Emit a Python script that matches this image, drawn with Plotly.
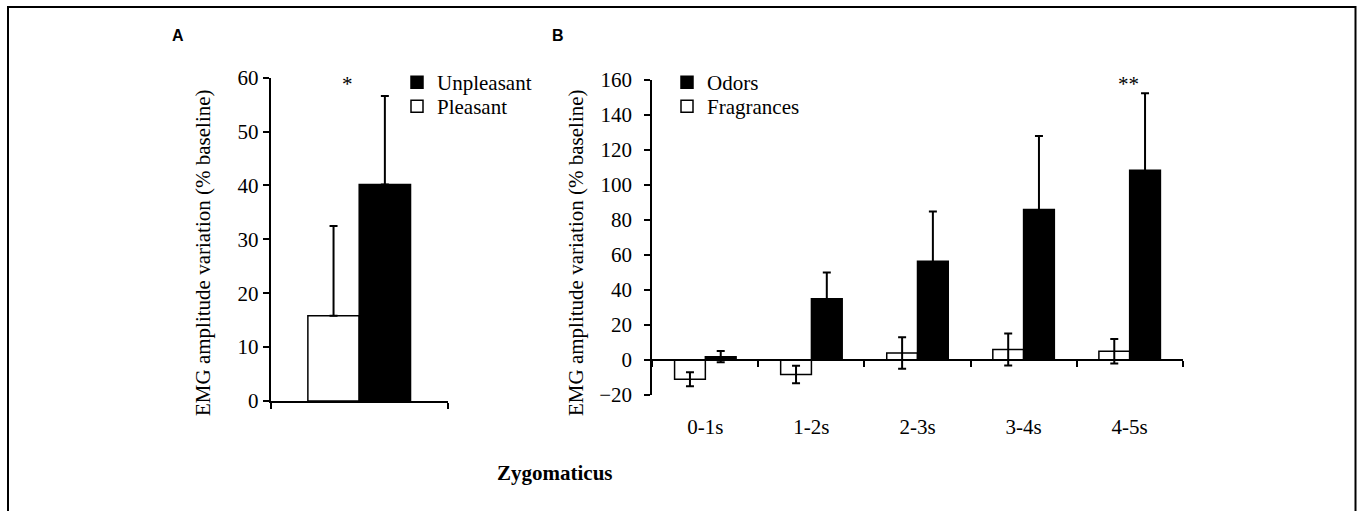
import plotly.graph_objects as go

W, H = 1361, 511

# ---------------- data ----------------
cat_a = ["Zygomaticus"]
pleasant = [15.8]
pleasant_err = [16.7]
unpleasant = [40.2]
unpleasant_err = [16.4]

cat_b = ["0-1s", "1-2s", "2-3s", "3-4s", "4-5s"]
fragrances = [-11.0, -8.3, 4.0, 6.0, 5.0]
fragrances_err = [4.0, 5.0, 9.0, 9.2, 7.0]
odors = [1.9, 35.0, 56.5, 86.0, 108.5]
odors_err = [3.2, 15.0, 28.3, 42.0, 44.0]

FONT = "Liberation Serif"

def px(x):
    return x / W

def py(y):
    return 1 - y / H

fig = go.Figure()

# Panel A
fig.add_trace(go.Bar(
    x=cat_a, y=pleasant, name="Pleasant", xaxis="x", yaxis="y",
    marker=dict(color="white", line=dict(color="black", width=1.5)),
    error_y=dict(type="data", array=pleasant_err, arrayminus=[0] * len(pleasant),
                 symmetric=False, color="black", thickness=2, width=4),
    legend="legend2",
))
fig.add_trace(go.Bar(
    x=cat_a, y=unpleasant, name="Unpleasant", xaxis="x", yaxis="y",
    marker=dict(color="black", line=dict(color="black", width=1.5)),
    error_y=dict(type="data", array=unpleasant_err, arrayminus=[0] * len(unpleasant),
                 symmetric=False, color="black", thickness=2, width=4),
    legend="legend",
))

# Panel B
fig.add_trace(go.Bar(
    x=cat_b, y=fragrances, name="Fragrances", xaxis="x2", yaxis="y2",
    marker=dict(color="white", line=dict(color="black", width=1.5)),
    error_y=dict(type="data", array=fragrances_err, color="black", thickness=2, width=4),
    legend="legend4",
))
fig.add_trace(go.Bar(
    x=cat_b, y=odors, name="Odors", xaxis="x2", yaxis="y2",
    marker=dict(color="black", line=dict(color="black", width=1.5)),
    error_y=dict(type="data", array=odors_err, color="black", thickness=2, width=4),
    legend="legend3",
))

axis_common = dict(showgrid=False, zeroline=False, showline=True, linecolor="black",
                   linewidth=2, ticks="outside", ticklen=6, tickwidth=2, tickcolor="black",
                   automargin=False,
                   tickfont=dict(family=FONT, size=21, color="black"))

def leg(x, y):
    return dict(x=px(x), y=py(y), xanchor="left", yanchor="top",
                bgcolor="rgba(0,0,0,0)", borderwidth=0,
                font=dict(family=FONT, size=21, color="black"))

fig.update_layout(
    width=W, height=H,
    margin=dict(l=0, r=0, t=0, b=0, pad=0, autoexpand=False),
    paper_bgcolor="white", plot_bgcolor="white",
    barmode="group", bargap=0.42, bargroupgap=0,
    font=dict(family=FONT, size=21, color="black"),
    xaxis=dict(domain=[px(270.7), px(447.7)], anchor="y", type="category",
               tickson="boundaries", showticklabels=False,
               **{k: v for k, v in axis_common.items() if k != "tickfont"}),
    yaxis=dict(domain=[py(401), py(77.7)], anchor="x", range=[0, 60],
               tickvals=[0, 10, 20, 30, 40, 50, 60], **axis_common),
    xaxis2=dict(domain=[px(652.3), px(1182.7)], anchor="free", position=py(360),
                type="category", tickson="boundaries", ticklabelstandoff=48,
                **axis_common),
    yaxis2=dict(domain=[py(395), py(80)], anchor="x2", range=[-20, 160],
                tickvals=[-20, 0, 20, 40, 60, 80, 100, 120, 140, 160],
                ticklabelstandoff=8, **axis_common),
    legend=leg(397, 62),
    legend2=leg(397, 86),
    legend3=leg(667, 62),
    legend4=leg(667, 86),
    showlegend=True,
)

def note(x, y, text, size=21, family=FONT, angle=0):
    return dict(x=px(x), y=py(y), xref="paper", yref="paper", text=text,
                textangle=angle, showarrow=False, xanchor="center", yanchor="middle",
                font=dict(family=family, size=size, color="black"))

title_text = "EMG amplitude variation (% baseline)"
ann = [
    note(203, 253, title_text, angle=-90),
    note(576, 253, title_text, angle=-90),
    note(178, 35, "<b>A</b>", size=16, family="Liberation Sans"),
    note(558, 35, "<b>B</b>", size=16, family="Liberation Sans"),
    note(347, 84, "*"),
    note(1128, 84, "**"),
    note(555, 473, "<b>Zygomaticus</b>"),
]
fig.update_layout(annotations=ann)

fig.add_shape(type="rect", xref="paper", yref="paper",
              x0=px(8), x1=px(1355.5), y0=-0.2, y1=py(7),
              line=dict(color="black", width=2), fillcolor="rgba(0,0,0,0)", layer="above")

fig.write_html("out.html")
